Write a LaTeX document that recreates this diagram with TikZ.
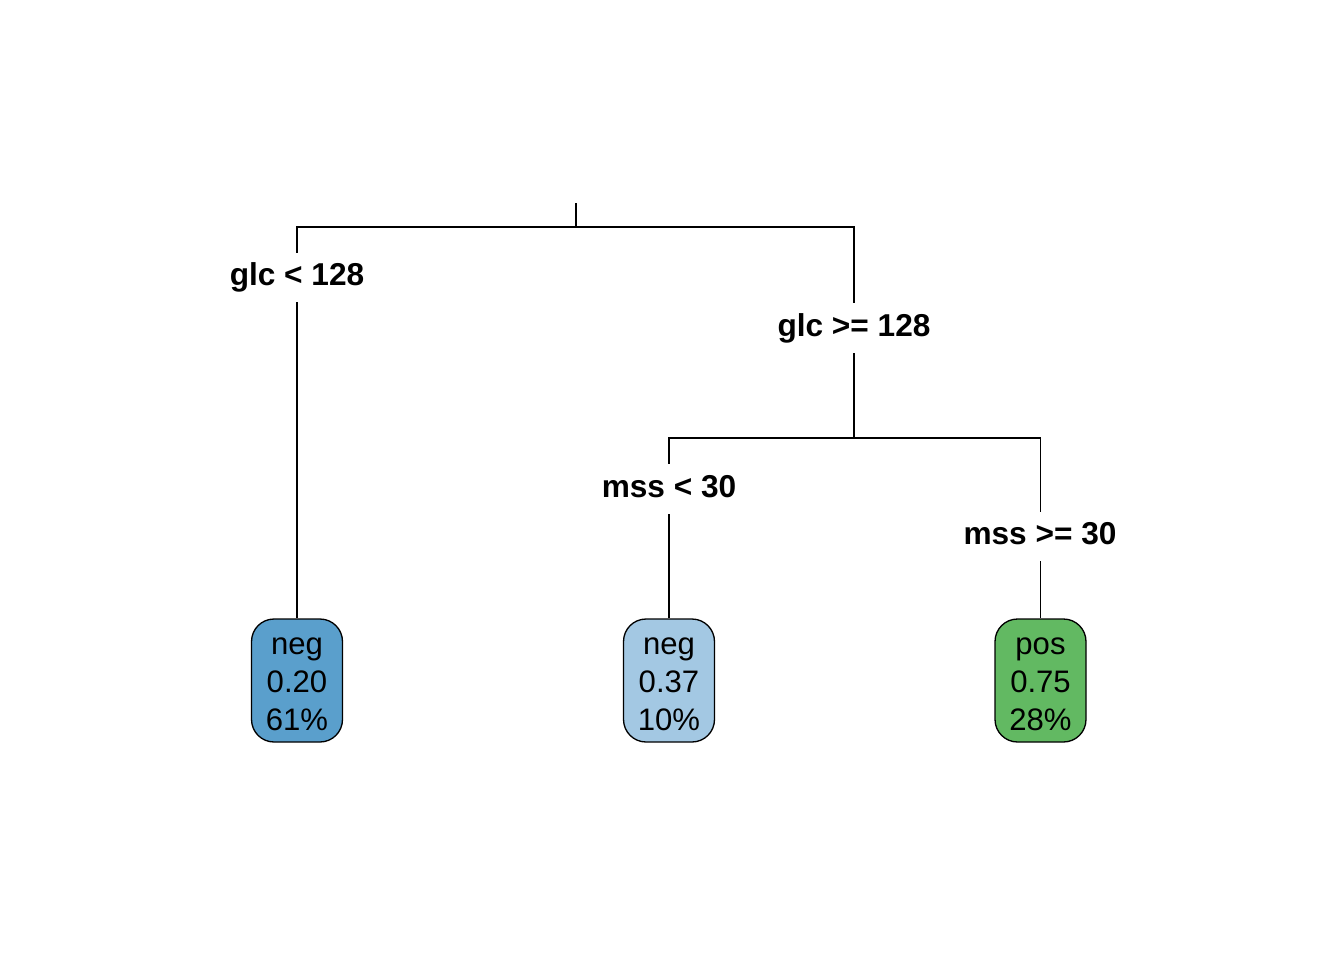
\documentclass[tikz,border=0pt]{standalone}
\usepackage{fontspec}
\setmainfont{Liberation Sans}
\usetikzlibrary{positioning}

\definecolor{leafdark}{HTML}{5A9FCC}
\definecolor{leaflight}{HTML}{A3C8E3}
\definecolor{leafgreen}{HTML}{62B962}
\newcommand{\leaftop}{\rule{0pt}{0.49cm}}

\begin{document}
\begin{tikzpicture}[x=0.02cm, y=-0.02cm, line width=0.75pt,
                    every node/.style={font=\fontsize{17.7}{21.6}\selectfont},
                    split/.style={fill=white, inner sep=0.2cm, text height=0.46cm, text depth=0.13cm, font=\fontsize{18}{21.6}\selectfont\bfseries},
                    leaf/.style={draw, rounded corners=0.45cm, minimum width=1.82cm, minimum height=2.46cm, align=center, inner sep=0pt}]
                    \useasboundingbox (0,0) rectangle (1344,960);
                    \coordinate (top) at (576,203);
                    \coordinate (root) at (576,227);
                    \coordinate (glchi) at (854,438);

                    \node[leaf, fill=leafdark](negleft) at (297,680.5){\leaftop neg\\0.20\\61\%};
                    \node[leaf, fill=leaflight](negmid) at (669,680.5){\leaftop neg\\0.37\\10\%};
                    \node[leaf, fill=leafgreen](posright) at (1040.5,680.5){\leaftop pos\\0.75\\28\%};

                    \draw (top) -- (root);
                    \draw (root) -| (negleft);
                    \draw (root) -| (glchi);
                    \draw (glchi) -| (negmid);
                    \draw (glchi) -| (posright);

                    \node[split](glclo) at (297,277.5){glc < 128};
                    \node[split](glcge) at (854,328){glc >= 128};
                    \node[split](msslo) at (669,489){mss < 30};
                    \node[split](mssge) at (1040,536.5){mss >= 30};
                \end{tikzpicture}
\end{document}
